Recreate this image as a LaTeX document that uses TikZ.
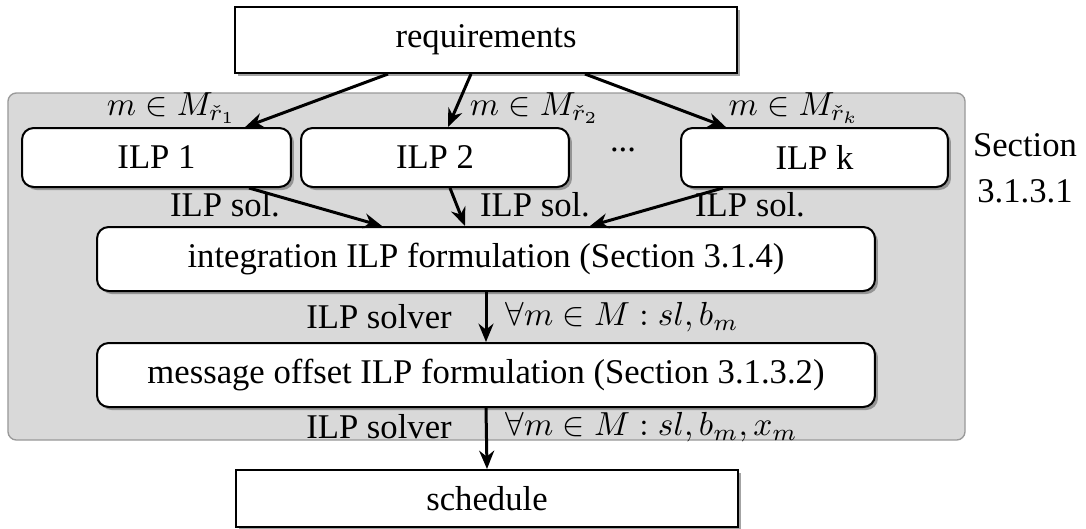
\documentclass[tikz,border=0pt]{standalone}
\usepackage{amsmath,amssymb}
\usepackage{fontspec}
\setmainfont{Liberation Serif}
\usetikzlibrary{arrows.meta,shadows}

\tikzset{
  proc/.style={draw=black, line width=0.6pt, fill=white, rounded corners=3.5pt,
    inner sep=0pt, drop shadow={shadow xshift=0.9pt, shadow yshift=-0.9pt, fill=black!60, opacity=0.6}},
  term/.style={draw=black, line width=0.6pt, fill=white,
    inner sep=0pt, drop shadow={shadow xshift=0.9pt, shadow yshift=-0.9pt, fill=black!60, opacity=0.6}},
  arr/.style={line width=0.9pt, -{Stealth[length=5.5pt,width=4.5pt]}},
  lbl/.style={inner sep=0pt}
}

\begin{document}
\begin{tikzpicture}[x=0.3pt, y=-0.3pt, font=\fontsize{10.4}{12.5}\selectfont]
\useasboundingbox (0,0) rectangle (1086,529);

% shaded region grouping the ILP stages
\draw[draw=black!40, line width=0.4pt, fill=black!15, rounded corners=2.5pt]
  (8,93) rectangle (965,440);

% boxes
\node[term, minimum width=150.6pt, minimum height=19.8pt] (req) at (486,40) {requirements};
\node[proc, minimum width=80.7pt, minimum height=17.7pt] (ilp1) at (156.5,157.5) {ILP 1};
\node[proc, minimum width=80.4pt, minimum height=17.7pt] (ilp2) at (435,157.5) {ILP 2};
\node[proc, minimum width=80.1pt, minimum height=17.7pt] (ilpk) at (814.5,157.5) {ILP k};
\node[lbl] (dots) at (623,150) {...};
\node[proc, minimum width=233.4pt, minimum height=19.2pt] (integ) at (486,259)
  {integration ILP formulation (Section 3.1.4)};
\node[proc, minimum width=233.4pt, minimum height=19.2pt] (msg) at (486,375)
  {message offset ILP formulation (Section 3.1.3.2)};
\node[term, minimum width=150.6pt, minimum height=17.1pt] (sched) at (487,498.5) {schedule};

% section reference on the right
\node[lbl, align=center] (sec) at (1025,168) {Section\\[1.2pt]3.1.3.1};

% requirements split into the partial ILPs
\draw[arr] ([xshift=-29.4pt]req.south) -- ([xshift=26.6pt]ilp1.north);
\draw[arr] ([xshift=-4.5pt]req.south) -- ([xshift=3.9pt]ilp2.north);
\draw[arr] ([xshift=29.7pt]req.south) -- ([xshift=-26.6pt]ilpk.north);

% partial solutions into the integration ILP
\draw[arr] ([xshift=27.75pt]ilp1.south) -- ([xshift=-31.2pt]integ.north);
\draw[arr] ([xshift=4.5pt]ilp2.south) -- ([xshift=-6.3pt]integ.north);
\draw[arr] ([xshift=-27.5pt]ilpk.south) -- ([xshift=31.2pt]integ.north);

% solver steps
\draw[arr] (integ.south) -- (msg.north);
\draw[arr] (msg.south) -- (sched.north);

% edge labels
\node[lbl] (l1) at (171.5,108) {$m \in M_{\check{r}_1}$};
\node[lbl] (l2) at (534.5,108) {$m \in M_{\check{r}_2}$};
\node[lbl] (l3) at (794,108) {$m \in M_{\check{r}_k}$};

\node[lbl] (s1) at (225,205) {ILP sol.};
\node[lbl] (s2) at (535,205) {ILP sol.};
\node[lbl] (s3) at (750,205) {ILP sol.};

\node[lbl] (v1) at (379,317) {ILP solver};
\node[lbl, anchor=west] (f1) at (505,317) {$\forall m \in M : sl, b_m$};
\node[lbl] (v2) at (379,427) {ILP solver};
\node[lbl, anchor=west] (f2) at (505,427) {$\forall m \in M : sl, b_m, x_m$};
\end{tikzpicture}
\end{document}
